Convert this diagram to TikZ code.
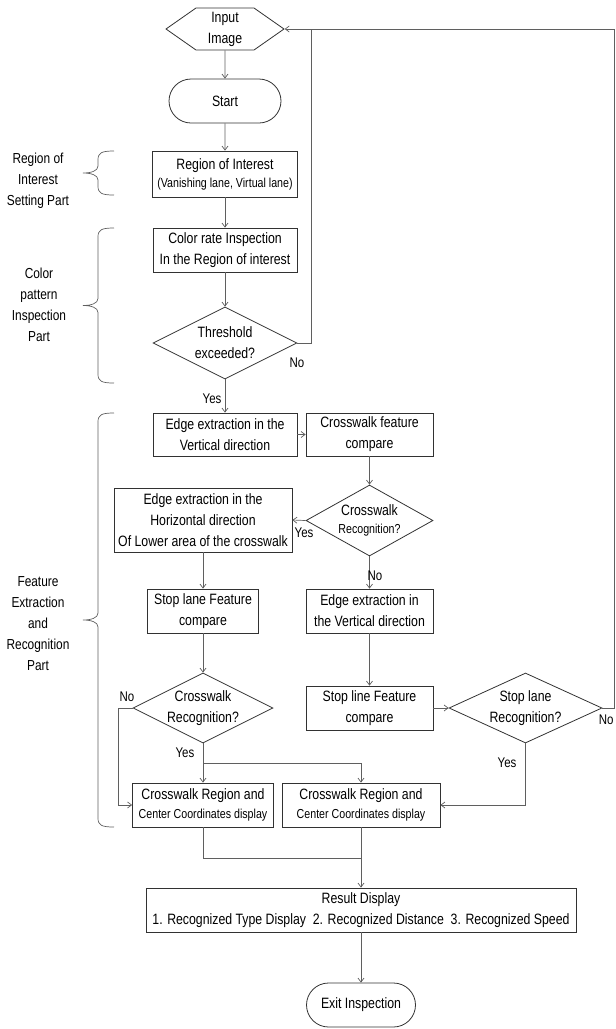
\documentclass[tikz,border=0pt]{standalone}
\usepackage{fontspec}
\setmainfont{Liberation Sans}[FakeStretch=0.82]
\usetikzlibrary{arrows.meta,calc,positioning,shapes.geometric,shapes.misc,shapes.symbols}
\definecolor{fcedge}{RGB}{50,50,50}
\definecolor{fcline}{RGB}{95,95,95}
\newcommand{\smalltxt}{\fontsize{13}{16}\selectfont}

\begin{document}
\begin{tikzpicture}[x=1pt,y=-1pt,font=\fontsize{15}{21}\selectfont,
  >={Straight Barb[length=4pt,width=6pt]},
  box/.style={draw=fcedge,line width=.8pt,rectangle,align=center,inner sep=0pt},
  dec/.style={draw=fcedge,line width=.8pt,diamond,align=center,inner sep=-2pt,aspect=2},
  term/.style={draw=fcedge,line width=.8pt,rounded rectangle,align=center,inner sep=0pt},
  link/.style={draw=fcline,line width=.7pt},
  side/.style={align=center,font=\fontsize{14.5}{21}\selectfont},
  tag/.style={font=\fontsize{14}{16}\selectfont}]
        \useasboundingbox (0,0) rectangle (616,1029);
        \node[draw=fcedge,line width=.8pt,signal,signal to=west and east,signal pointer angle=70,
              minimum width=118pt,minimum height=42pt,inner sep=0pt,align=center] (input) at (225,29) {Input\\Image};
        \node[term,minimum width=112pt,minimum height=44pt] (start) at (225,101) {Start};
        \node[box,minimum width=145pt,minimum height=46pt] (roi) at (225,174) {Region of Interest\\[-3pt]{\smalltxt (Vanishing lane, Virtual lane)}};
        \node[box,minimum width=144pt,minimum height=44pt] (color) at (225,250) {Color rate Inspection\\In the Region of interest};
        \node[dec,minimum width=144pt,minimum height=72pt] (thr) at (225,343) {Threshold\\exceeded?};
        \node[box,minimum width=144pt,minimum height=43pt] (edgev) at (225,434.5) {Edge extraction in the\\Vertical direction};
        \node[box,minimum width=127pt,minimum height=43pt] (cfc) at (369.5,434.5) {Crosswalk feature\\compare};
        \node[dec,minimum width=127pt,minimum height=71pt] (crec) at (369.5,520.5) {Crosswalk\\[-3pt]{\smalltxt Recognition?}};
        \node[box,minimum width=178pt,minimum height=64pt] (edgeh) at (203,520) {Edge extraction in the\\Horizontal direction\\Of Lower area of the crosswalk};
        \node[box,minimum width=111pt,minimum height=44pt] (slfc) at (203,611) {Stop lane Feature\\compare};
        \node[box,minimum width=127pt,minimum height=44pt] (edgev2) at (369.5,611) {Edge extraction in\\the Vertical direction};
        \node[dec,minimum width=140pt,minimum height=70pt] (crec2) at (203,708) {Crosswalk\\Recognition?};
        \node[box,minimum width=127pt,minimum height=44pt] (stlfc) at (369.5,708) {Stop line Feature\\compare};
        \node[dec,minimum width=153pt,minimum height=70pt] (srec) at (525.5,708) {Stop lane\\Recognition?};
        \node[box,minimum width=141pt,minimum height=44pt] (reg1) at (203,805) {Crosswalk Region and\\[-2pt]{\smalltxt Center Coordinates display}};
        \node[box,minimum width=158pt,minimum height=44pt] (reg2) at (361,805) {Crosswalk Region and\\[-2pt]{\smalltxt Center Coordinates display}};
        \node[box,minimum width=430pt,minimum height=44pt] (result) at (361,910) {Result Display\\1. Recognized Type Display\ \ 2. Recognized Distance\ \ 3. Recognized Speed};
        \node[term,minimum width=109pt,minimum height=44pt] (exit) at (361,1005) {Exit Inspection};

        \node[side] (roiside) at (38,181) {Region of\\Interest\\Setting Part};
        \node[side] (colside) at (39,305) {Color\\pattern\\Inspection\\Part};
        \node[side] (featside) at (38,624) {Feature\\Extraction\\and\\Recognition\\Part};
        \foreach \t/\m/\b in {151/173/195,228/305.5/383,413/620/827}
          \draw[link] (114,\t) .. controls (101,\t) and (98,\t+2) .. (98,\t+9) -- (98,\m-7)
            .. controls (98,\m-2) and (91,\m) .. (83,\m) .. controls (91,\m) and (98,\m+2) .. (98,\m+7)
            -- (98,\b-9) .. controls (98,\b-2) and (101,\b) .. (114,\b);

        \coordinate (fbl) at (311,29);
        \coordinate (fbr) at (614,29);
        \coordinate (nleft) at (118,708);
        \coordinate (ysplit) at (203,763);
        \coordinate (merge) at (361,858);

        \draw[link,->] (input) -- (start);
        \draw[link,->] (start) -- (roi);
        \draw[link,->] (roi) -- (color);
        \draw[link,->] (color) -- (thr);
        \draw[link,->] (thr) -- (edgev);
        \draw[link,->] (thr.east) -| (fbl) -- (input.east);
        \draw[link] (srec.east) -| (fbr) -- (fbl);
        \draw[link,->] (edgev) -- (cfc);
        \draw[link,->] (cfc) -- (crec);
        \draw[link,->] (crec.west) -- (edgeh.east);
        \draw[link,->] (crec) -- (edgev2);
        \draw[link,->] (edgeh) -- (slfc);
        \draw[link,->] (edgev2) -- (stlfc);
        \draw[link,->] (slfc) -- (crec2);
        \draw[link,->] (stlfc) -- (srec);
        \draw[link,->] (crec2.west) -- (nleft) |- (reg1.west);
        \draw[link,->] (crec2) -- (reg1);
        \draw[link,->] (ysplit) -| (reg2.north);
        \draw[link,->] (srec.south) |- (reg2.east);
        \draw[link] (reg1.south) |- (merge);
        \draw[link,->] (reg2) -- (result);
        \draw[link,->] (result) -- (exit);

        \node[tag] (ythr) at (212,399) {Yes};
        \node[tag] (nthr) at (297,363) {No};
        \node[tag] (ycrec) at (304,533) {Yes};
        \node[tag] (ncrec) at (375,576) {No};
        \node[tag] (ncrec2) at (127,697) {No};
        \node[tag] (ycrec2) at (185,753) {Yes};
        \node[tag] (ysrec) at (507,763) {Yes};
        \node[tag,anchor=east] (nsrec) at (617,720) {No};
      \end{tikzpicture}
\end{document}
